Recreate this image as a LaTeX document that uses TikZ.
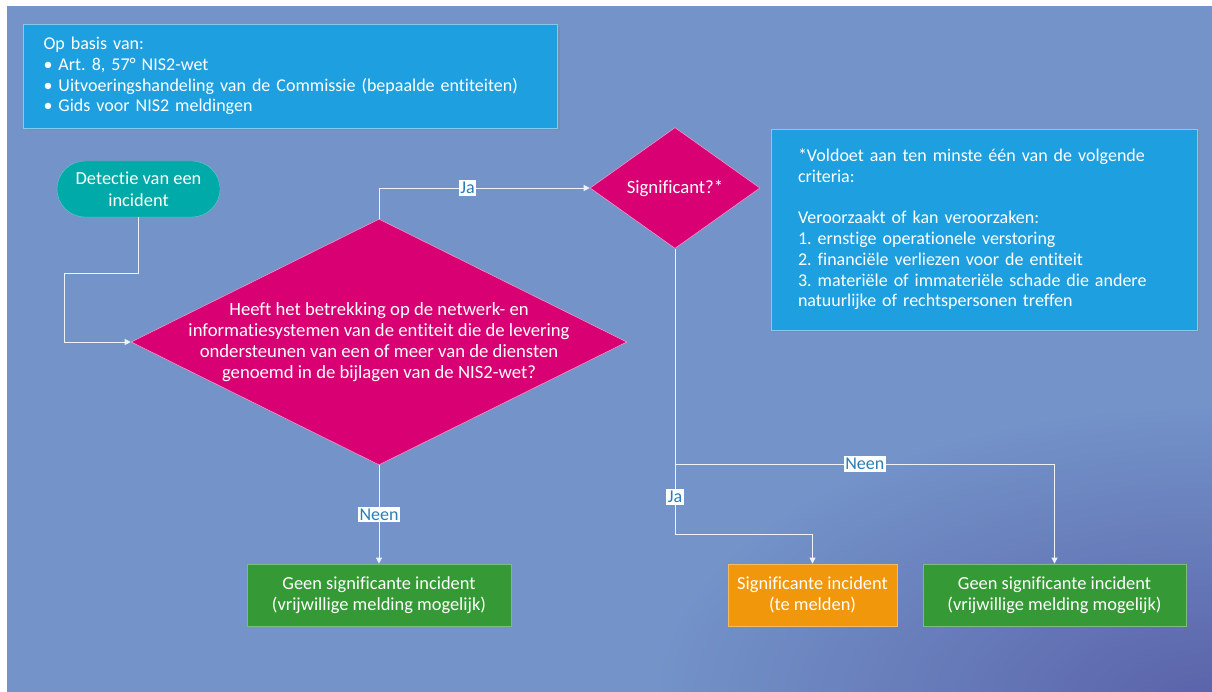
\documentclass[tikz,border=0pt]{standalone}
\usepackage{fontspec}
\setmainfont{Carlito}[Ligatures=NoCommon]
\usepackage{tikz}
\usetikzlibrary{shapes.geometric,arrows.meta,shadows}
\frenchspacing

\definecolor{bglight}{HTML}{7393C9}
\definecolor{bgdark}{HTML}{5A62A9}
\definecolor{infoblue}{HTML}{1EA0E0}
\definecolor{teal}{HTML}{00AAA8}
\definecolor{magenta}{HTML}{D80073}
\definecolor{okgreen}{HTML}{359A35}
\definecolor{warnorange}{HTML}{F0970C}
\definecolor{labelblue}{HTML}{2A7DB5}
\definecolor{linecol}{HTML}{EEF2FA}

\begin{document}
\begin{tikzpicture}[x=1pt, y=-1pt,
  txt/.style={font=\fontsize{18.4}{21.5}\selectfont, text=white},
  infotxt/.style={font=\fontsize{18}{20.7}\selectfont, text=white},
  qtxt/.style={font=\fontsize{18.7}{21}\selectfont, text=white},
  infobox/.style={infotxt, draw=white!45!infoblue, line width=0.8pt, fill=infoblue,
    align=left, drop shadow={opacity=0.35, shadow xshift=2pt, shadow yshift=-2pt}},
  startbox/.style={txt, draw=white!40!teal, fill=teal, rounded corners=28pt,
    minimum width=163pt, minimum height=56pt, align=center},
  question/.style={diamond, fill=magenta, draw=white!60!magenta, line width=0.6pt, inner sep=0pt},
  outbox/.style={txt, minimum height=62pt, align=center, line width=0.8pt},
  flow/.style={draw=linecol, line width=0.8pt, -{Triangle[width=6pt,length=6pt]}},
  lbl/.style={fill=white, text=labelblue, font=\fontsize{18}{20}\selectfont, inner xsep=1.5pt, inner ysep=2pt}
]
  % background
  \fill[white] (0,0) rectangle (1212,692);
  \begin{scope}
    \clip (7,6) rectangle (1212,692);
    \fill[bglight] (7,6) rectangle (1212,692);
    \shade[inner color=bgdark, outer color=bglight] (1212,705) ellipse (560 and 300);
  \end{scope}

  % info boxes
  \node[infobox, minimum width=533pt, minimum height=104pt, text width=494pt,
    inner xsep=20pt] (basis) at (290.5,76)
    {Op basis van:\\
     \makebox[15pt][l]{\textbullet}Art. 8, 57° NIS2-wet\\
     \makebox[15pt][l]{\textbullet}Uitvoeringshandeling van de Commissie (bepaalde entiteiten)\\
     \makebox[15pt][l]{\textbullet}Gids voor NIS2 meldingen};
  \node[infobox, minimum width=426pt, minimum height=201pt, text width=372pt,
    inner xsep=27pt] (criteria) at (984,229.5)
    {*Voldoet aan ten minste één van de volgende\\
     criteria:\\[20.7pt]
     Veroorzaakt of kan veroorzaken:\\
     1. ernstige operationele verstoring\\
     2. financiële verliezen voor de entiteit\\
     3. materiële of immateriële schade die andere\\
     natuurlijke of rechtspersonen treffen};

  % flow
  \node[startbox] (start) at (138.5,189) {Detectie van een\\incident};
  \node[question, minimum width=496pt, minimum height=246pt] (qnis) at (379,342) {};
  \node[qtxt, align=center] at (qnis.center)
    {Heeft het betrekking op de netwerk- en\\
     informatiesystemen van de entiteit die de levering\\
     ondersteunen van een of meer van de diensten\\
     genoemd in de bijlagen van de NIS2-wet?};
  \node[question, minimum width=170pt, minimum height=121pt] (qsig) at (675,188) {};
  \node[qtxt] at (qsig.center) {Significant?*};

  \node[outbox, fill=okgreen, draw=white!35!okgreen, minimum width=264pt] (geenA) at (379,595)
    {Geen significante incident\\(vrijwillige melding mogelijk)};
  \node[outbox, fill=warnorange, draw=white!35!warnorange, minimum width=169pt] (melden) at (812.5,595)
    {Significante incident\\(te melden)};
  \node[outbox, fill=okgreen, draw=white!35!okgreen, minimum width=263pt] (geenB) at (1054.5,595)
    {Geen significante incident\\(vrijwillige melding mogelijk)};

  \coordinate (split) at (675,464);
  \coordinate (bend) at (675,534);

  \draw[flow] (start.south) -- ++(0,56) -| ([xshift=-66pt]qnis.west) -- (qnis.west);
  \draw[flow] (qnis.north) |- node[lbl, pos=0.71]{Ja} (qsig.west);
  \draw[flow] (qnis.south) -- node[lbl]{Neen} (geenA.north);
  \draw[draw=linecol, line width=0.8pt] (qsig.south) -- (split);
  \draw[flow] (split) -| node[lbl, pos=0.25]{Neen} (geenB.north);
  \draw[flow] (split) -- node[lbl, pos=0.47]{Ja} (bend) -| (melden.north);
\end{tikzpicture}
\end{document}
